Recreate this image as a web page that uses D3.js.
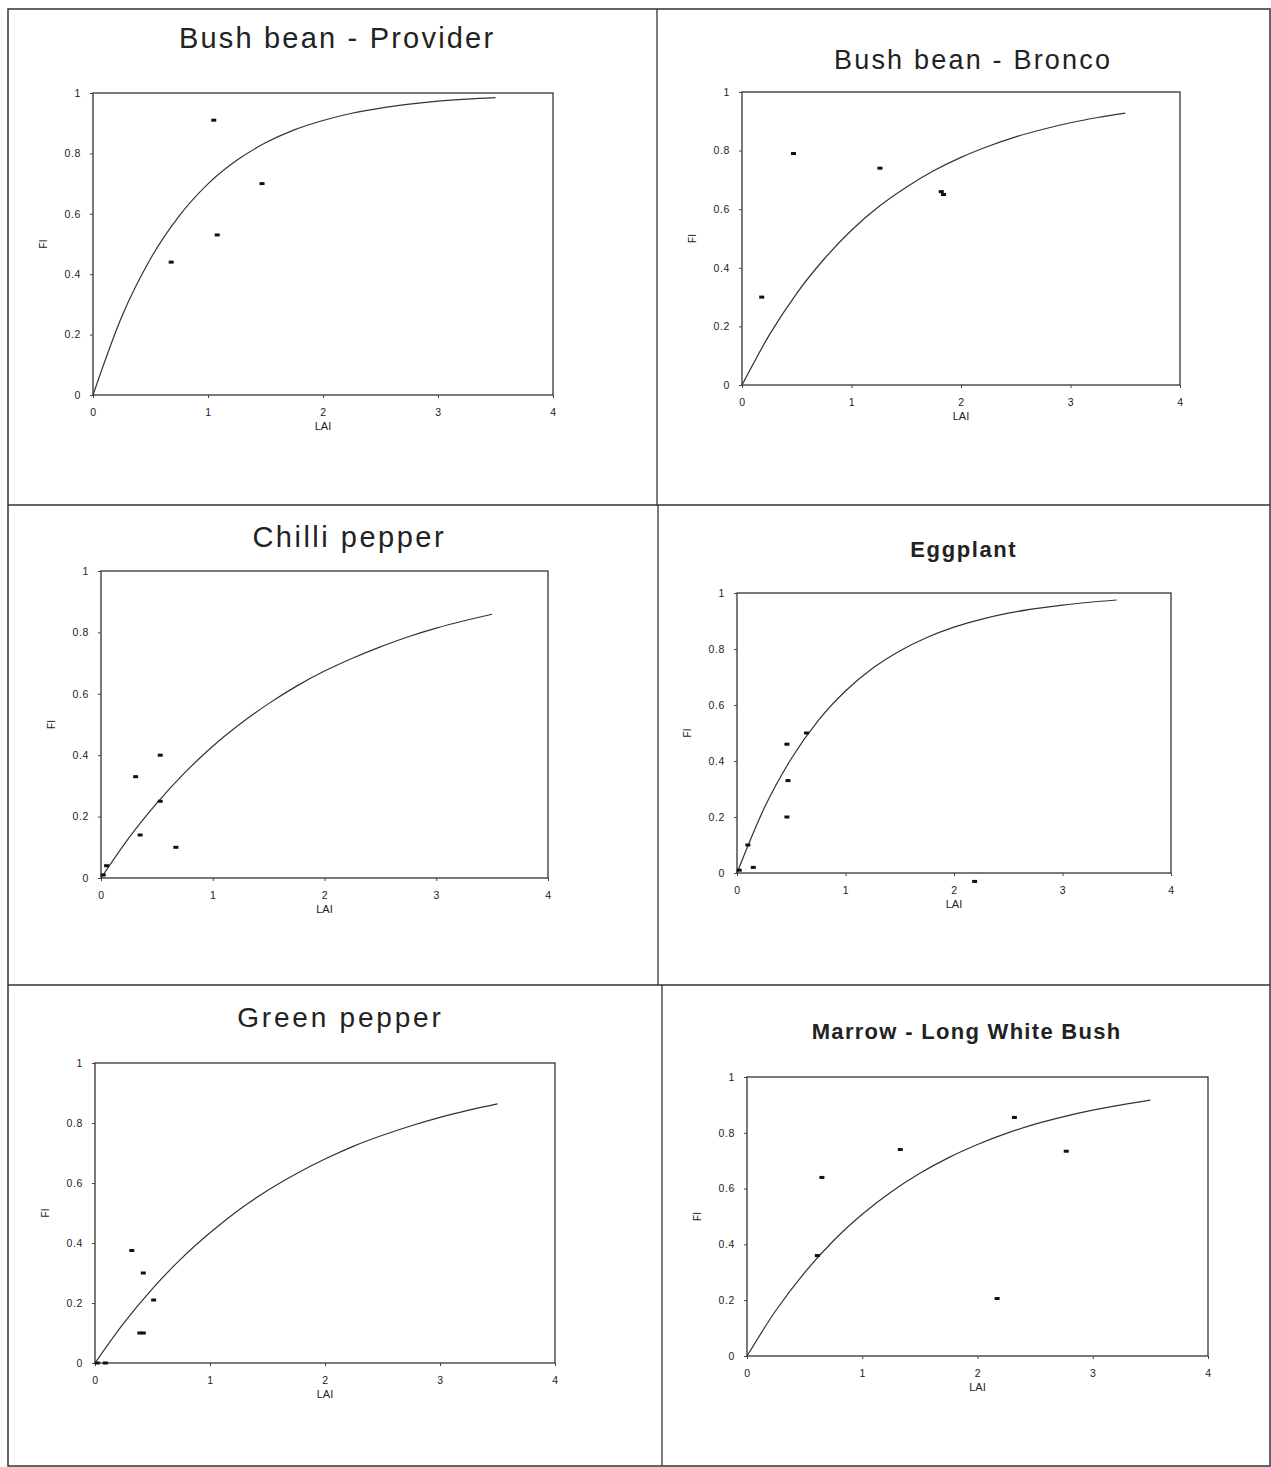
<!DOCTYPE html>
<html><head><meta charset="utf-8">
<script src="https://cdn.jsdelivr.net/npm/d3@7"></script>
<style>body{margin:0;background:#fff}svg{display:block}text{font-family:"Liberation Sans",Arial,sans-serif;fill:#222}</style>
</head><body>
<script>
// ---- data ----
const titles = ["Bush bean - Provider","Bush bean - Bronco","Chilli pepper","Eggplant","Green pepper","Marrow - Long White Bush"];
const xTicks = [0,1,2,3,4];
const yTicks = [0,0.2,0.4,0.6,0.8,1];
const yTickLabels = ["0","0.2","0.4","0.6","0.8","1"];
const curveLAI = [0,0.25,0.5,0.75,1,1.25,1.5,1.75,2,2.25,2.5,2.75,3,3.25,3.5];
const curveProvider = [0,0.259,0.451,0.593,0.699,0.777,0.835,0.878,0.909,0.933,0.950,0.963,0.973,0.980,0.985];
const curveBronco   = [0,0.171,0.313,0.430,0.528,0.609,0.675,0.731,0.777,0.815,0.847,0.873,0.895,0.913,0.928];
const curveChilli   = [0,0.131,0.244,0.343,0.429,0.503,0.568,0.625,0.674,0.716,0.753,0.786,0.814,0.838,0.859];
const curveEggplant = [0,0.231,0.408,0.545,0.650,0.731,0.793,0.841,0.878,0.906,0.928,0.944,0.957,0.967,0.975];
const curveGreen    = [0,0.133,0.248,0.348,0.434,0.510,0.575,0.631,0.680,0.723,0.759,0.791,0.819,0.843,0.864];
const curveMarrow   = [0,0.163,0.299,0.413,0.508,0.588,0.655,0.711,0.758,0.798,0.831,0.858,0.881,0.900,0.917];
const ptsProvider = [[0.68,0.44],[1.05,0.91],[1.08,0.53],[1.47,0.70]];
const ptsBronco   = [[0.18,0.30],[0.47,0.79],[1.26,0.74],[1.82,0.66],[1.84,0.65]];
const ptsChilli   = [[0.02,0.01],[0.05,0.04],[0.31,0.33],[0.35,0.14],[0.53,0.40],[0.53,0.25],[0.67,0.10]];
const ptsEggplant = [[0.02,0.01],[0.10,0.10],[0.15,0.02],[0.46,0.46],[0.47,0.33],[0.46,0.20],[0.64,0.50],[2.19,-0.03]];
const ptsGreen    = [[0.02,0.0],[0.09,0.0],[0.32,0.375],[0.42,0.30],[0.51,0.21],[0.39,0.10],[0.42,0.10]];
const ptsMarrow   = [[0.61,0.36],[0.65,0.64],[1.33,0.74],[2.32,0.855],[2.77,0.734],[2.17,0.206]];

const curves = [curveProvider,curveBronco,curveChilli,curveEggplant,curveGreen,curveMarrow];
const points = [ptsProvider,ptsBronco,ptsChilli,ptsEggplant,ptsGreen,ptsMarrow];

// ---- layout ----
const W = 1271, H = 1467;
const panels = [
  {x0:93,x1:553,y0:93,y1:395,tx:336,ty:48,ts:29,ls:2.2,tw:"normal"},
  {x0:742,x1:1180,y0:92,y1:385,tx:972,ty:69,ts:27,ls:2.2,tw:"normal"},
  {x0:101,x1:548,y0:571,y1:878,tx:348,ty:547,ts:29,ls:2.5,tw:"normal"},
  {x0:737,x1:1171,y0:593,y1:873,tx:963,ty:557,ts:22,ls:1.6,tw:"bold"},
  {x0:95,x1:555,y0:1063,y1:1363,tx:339,ty:1027,ts:28,ls:2.8,tw:"normal"},
  {x0:747,x1:1208,y0:1077,y1:1356,tx:966,ty:1039,ts:22,ls:1.3,tw:"bold"}
];

const svg = d3.select("body").append("svg").attr("width",W).attr("height",H);
svg.append("rect").attr("width",W).attr("height",H).attr("fill","#fff");

// cell grid
const grid = svg.append("g").attr("stroke","#333").attr("fill","none");
grid.append("rect").attr("x",8).attr("y",9).attr("width",1262).attr("height",1457).attr("stroke-width",1.5);
grid.append("line").attr("x1",8).attr("x2",1270).attr("y1",505).attr("y2",505).attr("stroke-width",1.3);
grid.append("line").attr("x1",8).attr("x2",1270).attr("y1",985).attr("y2",985).attr("stroke-width",1.3);
grid.append("line").attr("x1",657).attr("x2",657).attr("y1",9).attr("y2",505).attr("stroke-width",1.3);
grid.append("line").attr("x1",658).attr("x2",658).attr("y1",505).attr("y2",985).attr("stroke-width",1.3);
grid.append("line").attr("x1",662).attr("x2",662).attr("y1",985).attr("y2",1466).attr("stroke-width",1.3);

panels.forEach((p,i)=>{
  const g = svg.append("g");
  const x = d3.scaleLinear().domain([0,4]).range([p.x0,p.x1]);
  const y = d3.scaleLinear().domain([0,1]).range([p.y1,p.y0]);

  g.append("text").attr("x",p.tx + p.ls/2).attr("y",p.ty).attr("text-anchor","middle")
    .attr("font-size",p.ts).attr("font-weight",p.tw).attr("letter-spacing",p.ls).text(titles[i]);

  // frame
  g.append("rect").attr("x",p.x0).attr("y",p.y0).attr("width",p.x1-p.x0).attr("height",p.y1-p.y0)
    .attr("fill","none").attr("stroke","#333").attr("stroke-width",1.3);

  const xa = g.append("g").attr("transform",`translate(0,${p.y1})`)
    .call(d3.axisBottom(x).tickValues(xTicks).tickSize(3).tickPadding(7).tickFormat(d3.format("d")));
  const ya = g.append("g").attr("transform",`translate(${p.x0},0)`)
    .call(d3.axisLeft(y).tickValues(yTicks).tickSize(3).tickPadding(9).tickFormat((d,j)=>yTickLabels[j]));
  [xa,ya].forEach(a=>{
    a.select(".domain").remove();
    a.selectAll("line").attr("stroke","#444");
    a.selectAll("text").attr("font-size",10.5).attr("letter-spacing",0.6).attr("fill","#222")
      .style("font-family","'Liberation Sans',Arial,sans-serif");
  });
  xa.selectAll("text").attr("dy","1.05em");

  g.append("text").attr("x",(p.x0+p.x1)/2).attr("y",p.y1+35).attr("text-anchor","middle")
    .attr("font-size",11).text("LAI");
  g.append("text").attr("transform",`translate(${p.x0-46},${(p.y0+p.y1)/2}) rotate(-90)`)
    .attr("text-anchor","middle").attr("font-size",10).text("FI");

  const line = d3.line().x((d,j)=>x(curveLAI[j])).y(d=>y(d)).curve(d3.curveMonotoneX);
  g.append("path").datum(curves[i]).attr("d",line).attr("fill","none")
    .attr("stroke","#333").attr("stroke-width",1.2);

  g.selectAll("rect.pt").data(points[i]).enter().append("rect").attr("class","pt")
    .attr("x",d=>x(d[0])-2.5).attr("y",d=>y(d[1])-1.5).attr("width",5).attr("height",3)
    .attr("fill","#111");
});
</script>
</body></html>
